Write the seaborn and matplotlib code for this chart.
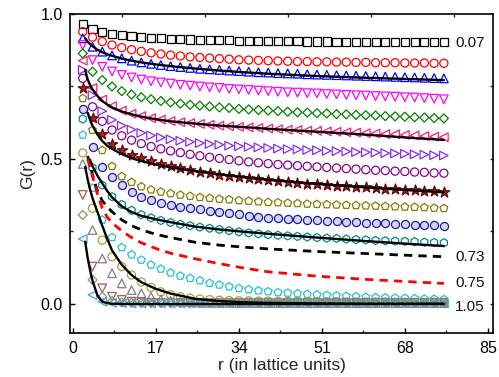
import matplotlib
matplotlib.use("Agg")
import matplotlib.pyplot as plt
import seaborn as sns
import numpy as np

sns.set_theme(style="ticks")
plt.rcParams["font.family"] = ["Liberation Sans", "DejaVu Sans"]

nan = np.nan

# lattice distances of the symbols
r = [2, 4, 6, 8, 10, 12, 14, 16, 18, 20, 22, 24, 26, 28, 30, 32, 34, 36, 38,
     40, 42, 44, 46, 48, 50, 52, 54, 56, 58, 60, 62, 64, 66, 68, 70, 72, 74, 76]

g_square = [0.966, 0.948, 0.938, 0.932, 0.927, 0.923, 0.920, 0.918, 0.916, 0.914, 0.913, 0.912, 0.911,
            0.910, 0.909, 0.909, 0.908, 0.908, 0.907, 0.907, 0.906, 0.906, 0.906, 0.905, 0.905, 0.905,
            0.904, 0.904, 0.904, 0.904, 0.903, 0.903, 0.903, 0.903, 0.902, 0.902, 0.902, 0.902]
g_red = [0.939, 0.920, 0.905, 0.893, 0.884, 0.877, 0.871, 0.866, 0.862, 0.858, 0.855, 0.852, 0.850,
         0.848, 0.846, 0.844, 0.842, 0.841, 0.840, 0.839, 0.838, 0.837, 0.836, 0.836, 0.835, 0.835,
         0.834, 0.834, 0.833, 0.833, 0.832, 0.832, 0.832, 0.831, 0.831, 0.831, 0.830, 0.830]
g_blue_tri = [0.916, 0.887, 0.870, 0.857, 0.847, 0.839, 0.833, 0.828, 0.824, 0.820, 0.817, 0.814, 0.811,
              0.809, 0.807, 0.805, 0.803, 0.801, 0.799, 0.798, 0.796, 0.795, 0.794, 0.792, 0.791, 0.790,
              0.789, 0.788, 0.787, 0.786, 0.785, 0.784, 0.783, 0.782, 0.781, 0.780, 0.779, 0.778]
g_magenta = [0.893, 0.841, 0.818, 0.802, 0.790, 0.781, 0.774, 0.768, 0.764, 0.760, 0.756, 0.753, 0.750,
             0.747, 0.745, 0.742, 0.740, 0.738, 0.736, 0.734, 0.732, 0.730, 0.729, 0.727, 0.726, 0.724,
             0.723, 0.721, 0.720, 0.719, 0.717, 0.716, 0.715, 0.713, 0.712, 0.710, 0.708, 0.706]
g_green_dia = [0.864, 0.801, 0.772, 0.750, 0.734, 0.722, 0.713, 0.706, 0.700, 0.695, 0.691, 0.687, 0.684,
               0.681, 0.678, 0.676, 0.673, 0.671, 0.669, 0.667, 0.665, 0.663, 0.661, 0.660, 0.658, 0.657,
               0.655, 0.654, 0.652, 0.651, 0.650, 0.648, 0.647, 0.646, 0.644, 0.643, 0.641, 0.640]
g_pink = [0.839, 0.745, 0.705, 0.682, 0.667, 0.656, 0.648, 0.641, 0.636, 0.631, 0.627, 0.624, 0.621,
          0.618, 0.615, 0.613, 0.611, 0.609, 0.607, 0.605, 0.603, 0.601, 0.600, 0.598, 0.597, 0.595,
          0.594, 0.592, 0.591, 0.589, 0.588, 0.586, 0.585, 0.583, 0.581, 0.579, 0.577, 0.575]
g_violet = [0.807, 0.720, 0.665, 0.635, 0.615, 0.601, 0.590, 0.581, 0.574, 0.568, 0.563, 0.559, 0.555,
            0.552, 0.549, 0.546, 0.544, 0.542, 0.540, 0.538, 0.536, 0.534, 0.533, 0.531, 0.530, 0.528,
            0.527, 0.526, 0.524, 0.523, 0.522, 0.520, 0.519, 0.518, 0.516, 0.515, 0.513, 0.512]
g_purple = [0.778, 0.680, 0.630, 0.600, 0.580, 0.565, 0.553, 0.543, 0.535, 0.528, 0.522, 0.516, 0.511,
            0.506, 0.502, 0.498, 0.494, 0.490, 0.487, 0.484, 0.481, 0.479, 0.477, 0.475, 0.473, 0.471,
            0.469, 0.467, 0.465, 0.463, 0.461, 0.460, 0.458, 0.457, 0.455, 0.454, 0.452, 0.451]
g_star = [0.744, 0.640, 0.585, 0.553, 0.531, 0.515, 0.502, 0.492, 0.483, 0.475, 0.468, 0.462, 0.456,
          0.451, 0.446, 0.442, 0.438, 0.434, 0.430, 0.427, 0.424, 0.421, 0.418, 0.415, 0.413, 0.410,
          0.408, 0.406, 0.404, 0.402, 0.400, 0.398, 0.396, 0.394, 0.392, 0.390, 0.389, 0.387]
g_olive_pent = [0.709, 0.600, 0.530, 0.475, 0.440, 0.420, 0.405, 0.394, 0.387, 0.381, 0.376, 0.372, 0.368,
                0.365, 0.362, 0.360, 0.357, 0.355, 0.353, 0.351, 0.350, 0.348, 0.347, 0.345, 0.344, 0.343,
                0.342, 0.341, 0.340, 0.339, 0.338, 0.337, 0.336, 0.335, 0.334, 0.333, 0.331, 0.330]
g_blue_circ = [0.672, 0.540, 0.473, 0.439, 0.410, 0.387, 0.370, 0.359, 0.349, 0.342, 0.336, 0.331, 0.326,
               0.322, 0.318, 0.314, 0.310, 0.305, 0.301, 0.298, 0.296, 0.294, 0.292, 0.290, 0.288, 0.286,
               0.285, 0.283, 0.282, 0.280, 0.279, 0.278, 0.277, 0.275, 0.274, 0.273, 0.271, 0.270]
g_teal = [0.638, 0.470, 0.410, 0.370, 0.343, 0.323, 0.308, 0.297, 0.288, 0.281, 0.275, 0.270, 0.265,
          0.261, 0.257, 0.253, 0.249, 0.245, 0.242, 0.239, 0.237, 0.235, 0.233, 0.231, 0.229, 0.227,
          0.226, 0.224, 0.222, 0.221, 0.219, 0.218, 0.217, 0.216, 0.215, 0.213, 0.212, 0.211]
g_asterisk = [0.600, 0.428, 0.353, 0.318, 0.284, 0.261, 0.244, 0.232, 0.221, 0.212, 0.203, 0.196, 0.189,
              0.183, 0.177, 0.172, 0.167, 0.163, 0.160, 0.157, 0.154, 0.151, 0.149, 0.146, 0.144, 0.142,
              0.140, 0.138, 0.136, 0.134, 0.133, 0.131, 0.130, 0.128, 0.127, 0.126, 0.124, 0.123]
g_cyan_pent = [0.583, 0.400, 0.290, 0.230, 0.195, 0.170, 0.152, 0.135, 0.121, 0.108, 0.097, 0.089, 0.081,
               0.072, 0.066, 0.060, 0.054, 0.050, 0.046, 0.043, 0.040, 0.038, 0.036, 0.034, 0.032, 0.030,
               0.029, 0.027, 0.026, 0.024, 0.023, 0.022, 0.021, 0.020, 0.019, 0.018, 0.017, 0.016]
g_olive_circ = [0.521, 0.330, 0.220, 0.163, 0.129, 0.100, 0.076, 0.057, 0.042, 0.032, 0.025, 0.020, 0.017,
                0.015, 0.013, 0.012, 0.011, 0.011, 0.010, 0.010, 0.009, 0.009, 0.009, 0.008, 0.008, 0.008,
                0.008, 0.007, 0.007, 0.007, 0.007, 0.007, 0.006, 0.006, 0.006, 0.006, 0.006, 0.006]
g_gray_tri = [0.483, 0.255, 0.157, 0.106, 0.071, 0.048, 0.037, 0.025, 0.016, 0.011, 0.008, 0.006, 0.005,
              0.004, 0.004, 0.004, 0.003, 0.003, 0.003, 0.003, 0.003, 0.003, 0.003, 0.003, 0.003, 0.003,
              0.003, 0.003, 0.003, 0.003, 0.003, 0.003, 0.003, 0.003, 0.003, 0.003, 0.003, 0.003]
g_brown = [0.376, 0.129, 0.054, 0.025, 0.014, 0.008, 0.005, 0.004, 0.003, 0.003, 0.003, 0.003, 0.003,
           0.003, 0.003, 0.003, 0.003, 0.003, 0.003, 0.003, 0.003, 0.003, 0.003, 0.003, 0.003, 0.003,
           0.003, 0.003, 0.003, 0.003, 0.003, 0.003, 0.003, 0.003, 0.003, 0.003, 0.003, 0.003]
g_khaki_dia = [0.307, 0.083, 0.025, 0.010, 0.005, 0.004, 0.003, 0.003, 0.003, 0.003, 0.003, 0.003, 0.003,
               0.003, 0.003, 0.003, 0.003, 0.003, 0.003, 0.003, 0.003, 0.003, 0.003, 0.003, 0.003, 0.003,
               0.003, 0.003, 0.003, 0.003, 0.003, 0.003, 0.003, 0.003, 0.003, 0.003, 0.003, 0.003]
g_cyan_left = [0.224, 0.031, 0.008, 0.004, 0.003, 0.002, 0.002, 0.002, 0.002, 0.002, 0.002, 0.002, 0.002,
               0.002, 0.002, 0.002, 0.002, 0.002, 0.002, 0.002, 0.002, 0.002, 0.002, 0.002, 0.002, 0.002,
               0.002, 0.002, 0.002, 0.002, 0.002, 0.002, 0.002, 0.002, 0.002, 0.002, 0.002, 0.002]

# fitted / reference curves, sampled on a common grid
r_fit = [2.5, 3, 3.5, 4, 5, 6, 7, 8, 10, 12, 14, 17, 20, 25, 30, 35, 40, 50, 60, 70, 76]
fit_blue = [0.916, 0.905, 0.896, 0.889, 0.877, 0.868, 0.861, 0.856, 0.846, 0.839, 0.833, 0.826, 0.820,
            0.812, 0.805, 0.799, 0.794, 0.786, 0.780, 0.775, 0.772]
fit_pink = [0.807, 0.775, 0.755, 0.740, 0.718, 0.700, 0.688, 0.678, 0.664, 0.654, 0.646, 0.637, 0.630,
            0.622, 0.615, 0.610, 0.604, 0.594, 0.584, 0.572, 0.566]
fit_star = [nan, 0.660, 0.635, 0.615, 0.585, 0.562, 0.546, 0.535, 0.517, 0.503, 0.493, 0.481, 0.471,
            0.458, 0.447, 0.437, 0.428, 0.414, 0.402, 0.391, 0.385]
fit_teal = [nan, nan, 0.497, 0.475, 0.443, 0.416, 0.390, 0.368, 0.337, 0.317, 0.304, 0.292, 0.282,
            0.267, 0.257, 0.249, 0.242, 0.229, 0.217, 0.206, 0.200]
fit_low = [0.473, 0.430, 0.395, 0.365, 0.318, 0.270, 0.225, 0.185, 0.135, 0.100, 0.075, 0.052, 0.036,
           0.018, 0.010, 0.006, 0.004, 0.002, 0.001, 0.001, 0.001]
fit_steep = [0.215, 0.160, 0.117, 0.080, 0.030, 0.008, 0.003, 0.001, 0.0, 0.0, 0.0, 0.0, 0.0,
             0.0, 0.0, 0.0, 0.0, 0.0, 0.0, 0.0, 0.0]
dash_073 = [nan, 0.510, 0.480, 0.445, 0.390, 0.356, 0.335, 0.318, 0.290, 0.270, 0.256, 0.240, 0.229,
            0.213, 0.203, 0.196, 0.190, 0.181, 0.174, 0.167, 0.163]
dash_075 = [nan, 0.500, 0.470, 0.440, 0.380, 0.330, 0.300, 0.280, 0.252, 0.229, 0.211, 0.191, 0.175,
            0.156, 0.139, 0.124, 0.111, 0.096, 0.085, 0.076, 0.071]

x_ticks = [0, 17, 34, 51, 68, 85]
y_ticks = [0.0, 0.5, 1.0]
end_labels = ["0.07", "0.73", "0.75", "1.05"]
end_label_y = [0.899, 0.162, 0.072, -0.009]

fig = plt.figure(figsize=(4.99, 3.77), dpi=100)
ax = fig.add_axes([0.1403, 0.1167, 0.8477, 0.8462])

marker_series = [
    (g_square, "s", "#000000", "none"),
    (g_red, "o", "#ff0000", "none"),
    (g_blue_tri, "^", "#0000ff", "none"),
    (g_magenta, "v", "#ff00ff", "none"),
    (g_green_dia, "D", "#008000", "none"),
    (g_pink, "<", "#ff1a75", "none"),
    (g_violet, ">", "#8a2be2", "none"),
    (g_purple, "o", "#8b008b", "none"),
    (g_star, "*", "#6a0000", "#a52a2a"),
    (g_olive_pent, "p", "#808000", "none"),
    (g_blue_circ, "o", "#1a1aa6", "#d6d6f4"),
    (g_teal, "h", "#008b8b", "none"),
    (g_asterisk, (6, 2, 0), "#22c922", "none"),
    (g_cyan_pent, "p", "#20c4d0", "none"),
    (g_olive_circ, "o", "#a3a336", "none"),
    (g_gray_tri, "^", "#808080", "none"),
    (g_brown, "v", "#a85a5a", "none"),
    (g_khaki_dia, "D", "#8a9a62", "none"),
    (g_cyan_left, "<", "#35a8dc", "none"),
]

for vals, mk, ec, fc in marker_series:
    size = 34
    if mk in ("D",):
        size = 21
    elif mk in ("^", "v", "<", ">"):
        size = 38
    elif mk == "*":
        size = 62
    elif mk == (6, 2, 0):
        size = 48
    sns.scatterplot(x=r, y=vals, ax=ax, marker=mk, s=size, color=ec,
                    facecolor=fc, edgecolor=ec, linewidth=0.9, zorder=3, legend=False)

for vals in [fit_blue, fit_pink, fit_star, fit_teal, fit_low, fit_steep]:
    sns.lineplot(x=r_fit, y=vals, ax=ax, color="black", linewidth=1.7,
                 estimator=None, sort=False, zorder=5, legend=False)

sns.lineplot(x=r_fit, y=dash_073, ax=ax, color="black", linewidth=2.0,
             linestyle=(0, (3, 2.2)), estimator=None, sort=False, zorder=5, legend=False)
sns.lineplot(x=r_fit, y=dash_075, ax=ax, color="#ff0000", linewidth=2.0,
             linestyle=(0, (3, 2.2)), estimator=None, sort=False, zorder=5, legend=False)

for txt, yy in zip(end_labels, end_label_y):
    ax.text(78.3, yy, txt, ha="left", va="center", fontsize=11, color="#111111")

ax.set_xlim(-0.61, 86.07)
ax.set_ylim(-0.1, 1.0)
ax.set_xticks(x_ticks)
ax.set_xticklabels([str(v) for v in x_ticks])
ax.set_xticks([8.5, 25.5, 42.5, 59.5, 76.5], minor=True)
ax.set_yticks(y_ticks)
ax.set_yticklabels(["0.0", "0.5", "1.0"])
ax.set_yticks([0.25, 0.75], minor=True)

ax.tick_params(axis="both", which="major", direction="in", length=3.5, width=1.0,
               labelsize=11.5, colors="black")
ax.tick_params(axis="both", which="minor", direction="in", length=2.2, width=1.0)
ax.tick_params(axis="x", which="major", pad=6)
ax.tick_params(axis="y", which="major", pad=5)

# small ticks on the top and right frame
sec_x = ax.secondary_xaxis("top")
sec_x.set_xticks([10, 27, 44, 61, 78])
sec_x.tick_params(direction="in", length=2.5, width=1.0, labeltop=False)
sec_x.spines["top"].set_visible(False)
sec_y = ax.secondary_yaxis("right")
sec_y.set_yticks([0.0, 0.25, 0.5, 0.75])
sec_y.tick_params(direction="in", length=2.5, width=1.0, labelright=False)
sec_y.spines["right"].set_visible(False)

for sp in ax.spines.values():
    sp.set_visible(True)
    sp.set_linewidth(1.2)
    sp.set_color("black")

ax.set_xlabel("r (in lattice units)", fontsize=12.5, labelpad=1)
ax.set_ylabel("G(r)", fontsize=12.5, labelpad=4)
ax.set_facecolor("white")
fig.patch.set_facecolor("white")

fig.savefig("out.png", dpi=100)
